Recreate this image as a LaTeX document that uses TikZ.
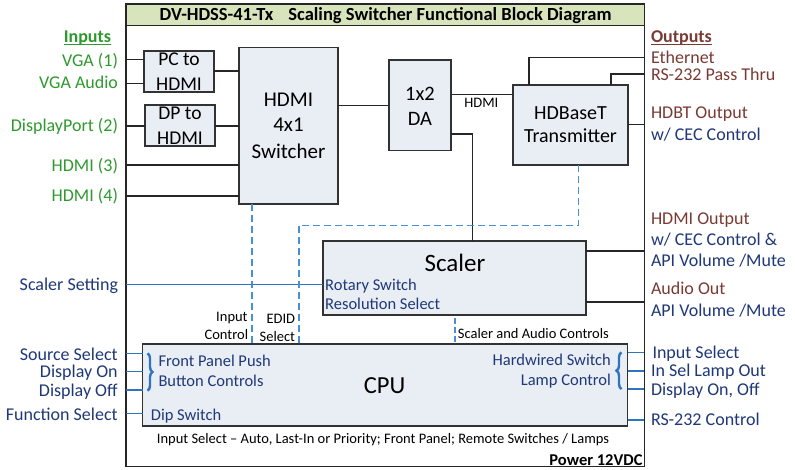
\documentclass[tikz,border=0pt]{standalone}
\usepackage{fontspec}
\setmainfont{Carlito}
\usetikzlibrary{decorations.pathreplacing}
\definecolor{ingreen}{RGB}{46,154,46}
\definecolor{outred}{RGB}{122,58,52}
\definecolor{navy}{RGB}{31,56,120}
\definecolor{boxfill}{RGB}{233,237,244}
\definecolor{titlefill}{RGB}{216,228,188}
\definecolor{ctlblue}{RGB}{46,117,190}
\definecolor{dashblue}{RGB}{70,145,212}
\definecolor{edgegray}{RGB}{50,50,50}
\newcommand{\myfs}[1]{\fontsize{#1}{#1}\selectfont}
\begin{document}
\begin{tikzpicture}[x=1pt,y=-1pt,
  blk/.style={draw=edgegray, line width=1.3pt, fill=boxfill, inner sep=0pt, outer sep=0pt, anchor=north west},
  wire/.style={line width=1.3pt, draw=black!85},
  ctl/.style={line width=1.5pt, draw=ctlblue},
  dsh/.style={line width=1.6pt, draw=dashblue, dash pattern=on 7pt off 4pt},
  lab/.style={inner sep=0pt, outer sep=0pt, font=\myfs{18}},
  lbl/.style={lab, anchor=base east},
  rbl/.style={lab, anchor=base west},
  bt/.style={inner sep=0pt, anchor=base},
  small/.style={inner sep=0pt, font=\myfs{14.5}},
  inner/.style={inner sep=0pt, font=\myfs{16.5}, text=navy},
  brc/.style={decorate, decoration={brace, amplitude=5pt}, line width=2.4pt, draw=ctlblue},
]
\useasboundingbox (0,0) rectangle (795,469);
\fill[white] (0,0) rectangle (795,469);

% frame and title
\node[draw=black!85, line width=1.3pt, fill=titlefill, inner sep=0pt, outer sep=0pt, anchor=north west,
      minimum width=518.3, minimum height=21.3] (title) at (126,4) {};
\node[draw=black!85, line width=1.5pt, inner sep=0pt, outer sep=0pt, anchor=north west,
      minimum width=518.3, minimum height=462.7] (frame) at (126,4) {};
\node[inner sep=0pt, anchor=base west, font=\myfs{18.5}\bfseries] (titletext) at (159.5,20.7)
  {DV-HDSS-41-Tx\hspace{15pt}Scaling Switcher Functional Block Diagram};

% boxes
\node[blk, minimum width=70, minimum height=41] (pc) at (144,51) {};
\node[blk, minimum width=70, minimum height=41] (dp) at (145,105) {};
\node[blk, minimum width=99, minimum height=156.3] (sw) at (239,47.7) {};
\node[blk, minimum width=62, minimum height=90.7] (da) at (389,60) {};
\node[blk, minimum width=115, minimum height=80] (hdbt) at (513,85) {};
\node[blk, minimum width=263, minimum height=74] (scaler) at (323,241) {};
\node[blk, minimum width=485, minimum height=82] (cpu) at (142.7,344) {};

% box texts
\node[bt, font=\myfs{19.5}] (pc1) at (179,65.7) {PC to};
\node[bt, font=\myfs{19.5}] (pc2) at (179,90) {HDMI};
\node[bt, font=\myfs{19.5}] (dp1) at (180,119.7) {DP to};
\node[bt, font=\myfs{19.5}] (dp2) at (180,144) {HDMI};
\node[bt, font=\myfs{21}] (sw1) at (288.5,106) {HDMI};
\node[bt, font=\myfs{21}] (sw2) at (288.5,131.7) {4x1};
\node[bt, font=\myfs{21}] (sw3) at (288.5,158.3) {Switcher};
\node[bt, font=\myfs{20.5}] (da1) at (420,100) {1x2};
\node[bt, font=\myfs{20.5}] (da2) at (420,125) {DA};
\node[bt, font=\myfs{20}] (hb1) at (570.5,119.3) {HDBaseT};
\node[bt, font=\myfs{20}] (hb2) at (570.5,142.7) {Transmitter};
\node[bt, font=\myfs{25}] (sc1) at (455,271.7) {Scaler};
\node[inner, anchor=base west] (sc2) at (325,290.7) {Rotary Switch};
\node[inner, anchor=base west] (sc3) at (325,309.3) {Resolution Select};
\node[bt, font=\myfs{24.5}] (cpu1) at (384.5,393.3) {CPU};
\node[inner, anchor=base west] (cp1) at (158.3,366.7) {Front Panel Push};
\node[inner, anchor=base west] (cp2) at (158.3,386) {Button Controls};
\node[inner, anchor=base west] (cp3) at (150.7,420) {Dip Switch};
\node[inner, anchor=base east] (cp4) at (611,365.7) {Hardwired Switch};
\node[inner, anchor=base east] (cp5) at (611,385) {Lamp Control};

% small labels
\node[small, anchor=base] (hdmilab) at (481.3,107.3) {HDMI};
\node[small, anchor=base east] (ic1) at (247.8,321.7) {Input};
\node[small, anchor=base east] (ic2) at (248.3,339.3) {Control};
\node[small, anchor=base east] (ed1) at (295.3,323.3) {EDID};
\node[small, anchor=base east] (ed2) at (295.3,341.7) {Select};
\node[small, anchor=base west] (sac) at (457.7,338.3) {Scaler and Audio Controls};
\node[small, anchor=base] (bottomtext) at (383,443) {Input Select -- Auto, Last-In or Priority; Front Panel; Remote Switches / Lamps};
\node[inner sep=0pt, anchor=base east, font=\myfs{16.5}\bfseries] (power) at (642.7,465) {Power 12VDC};

% left labels
\node[lbl, font=\myfs{18}\bfseries, text=ingreen] (tin) at (111,42.7) {Inputs};
\draw[ingreen, line width=1.3pt] ([yshift=-2pt]tin.base west) -- ([yshift=-2pt]tin.base east);
\node[lbl, text=ingreen] (tvga) at (118,66) {VGA (1)};
\node[lbl, text=ingreen] (tvgaa) at (118,88.5) {VGA Audio};
\node[lbl, text=ingreen] (tdp) at (118,131) {DisplayPort (2)};
\node[lbl, text=ingreen] (th3) at (118,171) {HDMI (3)};
\node[lbl, text=ingreen] (th4) at (118,201.7) {HDMI (4)};
\node[lbl, text=navy] (tss) at (118,290.5) {Scaler Setting};
\node[lbl, text=navy] (tsrc) at (117.7,360) {Source Select};
\node[lbl, text=navy] (ton) at (117.7,377.7) {Display On};
\node[lbl, text=navy] (toff) at (117.7,396.7) {Display Off};
\node[lbl, text=navy] (tfun) at (117.7,420) {Function Select};

% right labels
\node[rbl, font=\myfs{18}\bfseries, text=outred] (tout) at (651,42.7) {Outputs};
\draw[outred, line width=1.3pt] ([yshift=-2pt]tout.base west) -- ([yshift=-2pt]tout.base east);
\node[rbl, text=outred] (teth) at (651,63.3) {Ethernet};
\node[rbl, text=outred] (trs) at (651,80) {RS-232 Pass Thru};
\node[rbl, text=outred] (thdbt) at (651,118.3) {HDBT Output};
\node[rbl, text=navy] (tcec1) at (651,140) {w/ CEC Control};
\node[rbl, text=outred] (thdo) at (651,224.3) {HDMI Output};
\node[rbl, text=navy] (tcec2) at (651,245) {w/ CEC Control \&};
\node[rbl, text=navy] (tapi1) at (651,266.7) {API Volume /Mute};
\node[rbl, text=outred] (taud) at (651,294.3) {Audio Out};
\node[rbl, text=navy] (tapi2) at (651,316.7) {API Volume /Mute};
\node[rbl, text=navy] (tisel) at (652.5,358.3) {Input Select};
\node[rbl, text=navy] (tlamp) at (651,376.7) {In Sel Lamp Out};
\node[rbl, text=navy] (tdon) at (651,395) {Display On, Off};
\node[rbl, text=navy] (trsc) at (651,425) {RS-232 Control};

% frame edge coordinates
\coordinate (e1) at (126,59.3);
\coordinate (e2) at (126,83.3);
\coordinate (e3) at (126,126);
\coordinate (e4) at (126,165);
\coordinate (e5) at (126,196);
\coordinate (e6) at (126,284.3);
\coordinate (e7) at (126,353.3);
\coordinate (e8) at (126,371.7);
\coordinate (e9) at (126,390);
\coordinate (e10) at (126,413.3);
\coordinate (o1) at (644.3,57.7);
\coordinate (o2) at (644.3,74);
\coordinate (o3) at (644.3,124.3);
\coordinate (o4) at (644.3,251);
\coordinate (o5) at (644.3,302);
\coordinate (o6) at (644.3,352.3);
\coordinate (o7) at (644.3,371);
\coordinate (o8) at (644.3,389);
\coordinate (o9) at (644.3,420);
\coordinate (pcout) at (214,71);
\coordinate (swout) at (338,105.3);
\coordinate (daout1) at (451,94.3);
\coordinate (daout2) at (451,134);
\coordinate (ethx) at (529,85);
\coordinate (rsx) at (611,85);
\coordinate (dashtop) at (578.3,165);
\coordinate (dashturn) at (298.7,225.3);
\coordinate (swbot) at (251.7,204);
\coordinate (scbot) at (455,318);

% input wires
\draw[wire] (e1) -- (e1 -| pc.west);
\draw[wire] (e2) -- (e2 -| pc.west);
\draw[wire] (e3) -- (e3 -| dp.west);
\draw[wire] (e4) -- (e4 -| sw.west);
\draw[wire] (e5) -- (e5 -| sw.west);
\draw[wire] (pcout) -- (pcout -| sw.west);
\draw[wire] (e3 -| dp.east) -- (e3 -| sw.west);
\draw[wire] (swout) -- (swout -| da.west);
\draw[wire] (daout1) -- (daout1 -| hdbt.west);
\draw[wire] (daout2) -| (472.3,241) coordinate (sctop) -- (sctop |- scaler.north);
\draw[wire] (ethx) |- (o1);
\draw[wire] (rsx) |- (o2);
\draw[wire] (o3 -| hdbt.east) -- (o3);
\draw[wire] (o4 -| scaler.east) -- (o4);
\draw[wire] (o5 -| scaler.east) -- (o5);

% control lines
\draw[ctl] (e6) -- (e6 -| scaler.west);
\draw[ctl] (e7) -- (e7 -| cpu.west);
\draw[ctl] (e8) -- (e8 -| cpu.west);
\draw[ctl] (e9) -- (e9 -| cpu.west);
\draw[ctl] (e10) -- (e10 -| cpu.west);
\draw[ctl] (o6 -| cpu.east) -- (o6);
\draw[ctl] (o7 -| cpu.east) -- (o7);
\draw[ctl] (o8 -| cpu.east) -- (o8);
\draw[ctl] (o9 -| cpu.east) -- (o9);
\draw[dsh] (swbot) -- (swbot |- cpu.north);
\draw[dsh] (dashtop) |- (dashturn) -- (dashturn |- cpu.north);
\draw[dsh, dash pattern=on 6pt off 3pt] (scbot) -- (scbot |- cpu.north);

% braces
\draw[brc] (147.5,353.3) -- (147.5,390.7);
\draw[brc] (621.5,389) -- (621.5,352.3);
\end{tikzpicture}
\end{document}
